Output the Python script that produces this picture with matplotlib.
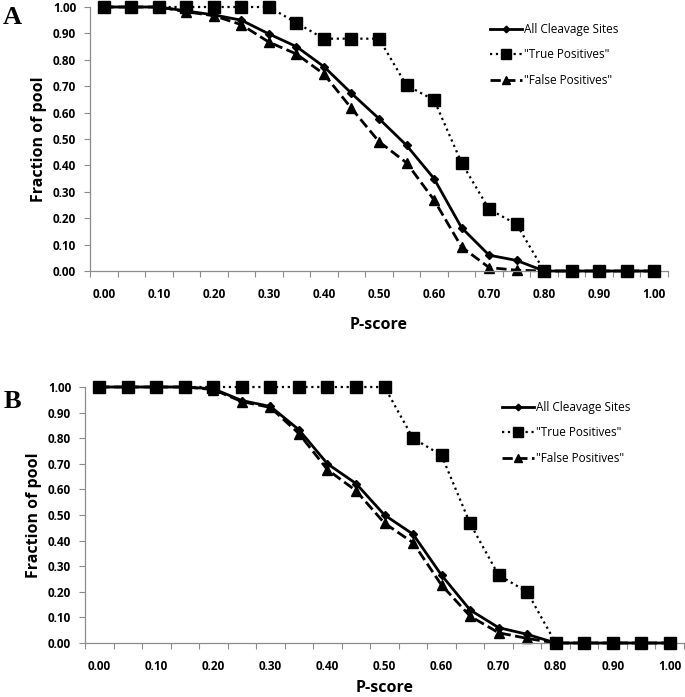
import matplotlib
matplotlib.use('Agg')
import matplotlib.pyplot as plt
import numpy as np

plt.rcParams['font.family'] = ['Open Sans', 'DejaVu Sans']

# P-score categories (Excel category axis)
p_score = ['0.00', '0.05', '0.10', '0.15', '0.20', '0.25', '0.30', '0.35', '0.40', '0.45', '0.50',
           '0.55', '0.60', '0.65', '0.70', '0.75', '0.80', '0.85', '0.90', '0.95', '1.00']

# panel A
a_all = [1.00, 1.00, 1.00, 0.985, 0.970, 0.950, 0.898, 0.850, 0.774, 0.673, 0.577,
         0.476, 0.350, 0.164, 0.060, 0.040, 0.0, 0.0, 0.0, 0.0, 0.0]
a_true = [1.00, 1.00, 1.00, 1.00, 1.00, 1.00, 1.00, 0.94, 0.88, 0.88, 0.88,
          0.703, 0.648, 0.410, 0.234, 0.177, 0.0, 0.0, 0.0, 0.0, 0.0]
a_false = [1.00, 1.00, 1.00, 0.982, 0.967, 0.933, 0.867, 0.822, 0.746, 0.616, 0.490,
           0.410, 0.269, 0.091, 0.013, 0.003, 0.0, 0.0, 0.0, 0.0, 0.0]

# panel B
b_all = [1.00, 1.00, 1.00, 1.00, 0.993, 0.947, 0.924, 0.833, 0.700, 0.623, 0.500,
         0.425, 0.265, 0.129, 0.060, 0.034, 0.0, 0.0, 0.0, 0.0, 0.0]
b_true = [1.00, 1.00, 1.00, 1.00, 1.00, 1.00, 1.00, 1.00, 1.00, 1.00, 1.00,
          0.800, 0.733, 0.467, 0.265, 0.200, 0.0, 0.0, 0.0, 0.0, 0.0]
b_false = [1.00, 1.00, 1.00, 1.00, 0.990, 0.943, 0.920, 0.818, 0.677, 0.595, 0.468,
           0.392, 0.226, 0.105, 0.040, 0.018, 0.0, 0.0, 0.0, 0.0, 0.0]

labels = ['All Cleavage Sites', '"True Positives"', '"False Positives"']
grey = '#8c8c8c'

W, H = 685, 697
fig = plt.figure(figsize=(W / 100, H / 100), dpi=100)


def panel(rect, all_sites, true_pos, false_pos, letter, letter_xy, leg_xy, xlab_pad):
    ax = fig.add_axes([rect[0] / W, 1 - rect[3] / H, (rect[2] - rect[0]) / W, (rect[3] - rect[1]) / H])
    x = np.arange(len(p_score))
    ax.plot(x, all_sites, '-', color='black', lw=2, marker='D', ms=4.5, label=labels[0], zorder=3, clip_on=False)
    ax.plot(x, true_pos, ':', color='black', lw=1.6, marker='s', ms=9, label=labels[1], zorder=4, clip_on=False)
    ax.plot(x, false_pos, '--', color='black', lw=2, marker='^', ms=7, label=labels[2], zorder=2, clip_on=False)

    ax.set_xlim(-0.5, len(p_score) - 0.5)
    ax.set_ylim(0, 1)
    ax.set_yticks(np.arange(0, 1.01, 0.1))
    ax.set_yticklabels(['%.2f' % v for v in np.arange(0, 1.01, 0.1)], fontsize=8.5, fontweight='bold')
    ax.set_xticks(x[::2])
    ax.set_xticklabels(p_score[::2], fontsize=8.5, fontweight='bold')
    ax.set_xticks(np.arange(-0.5, len(p_score)), minor=True)
    ax.tick_params(axis='x', which='major', length=0, pad=12)
    ax.tick_params(axis='x', which='minor', length=4, color=grey, width=0.8)
    ax.tick_params(axis='y', length=4, color=grey, width=0.8, pad=6)
    for s in ['top', 'right']:
        ax.spines[s].set_visible(False)
    for s in ['left', 'bottom']:
        ax.spines[s].set_color(grey)
        ax.spines[s].set_linewidth(0.9)

    ax.set_ylabel('Fraction of pool', fontsize=11.5, fontweight='bold', labelpad=4)
    ax.set_xlabel('P-score', fontsize=11.5, fontweight='bold', labelpad=xlab_pad)

    fig.text(letter_xy[0] / W, 1 - letter_xy[1] / H, letter, fontsize=19, fontweight='bold',
             family='Liberation Serif', va='center', ha='left')

    ax.legend(loc='upper left', bbox_to_anchor=(leg_xy[0] / W, 1 - leg_xy[1] / H),
              bbox_transform=fig.transFigure, frameon=False, fontsize=8.5,
              handlelength=2.7, handletextpad=0.15, labelspacing=1.05,
              borderpad=0, borderaxespad=0, markerscale=0.75)
    return ax


panel((90, 7, 668, 271), a_all, a_true, a_false, 'A', (3, 17), (490, 23), 12)
panel((85, 387, 684, 643), b_all, b_true, b_false, 'B', (4, 402), (502, 401), 5)

fig.savefig('out.png', dpi=100)
